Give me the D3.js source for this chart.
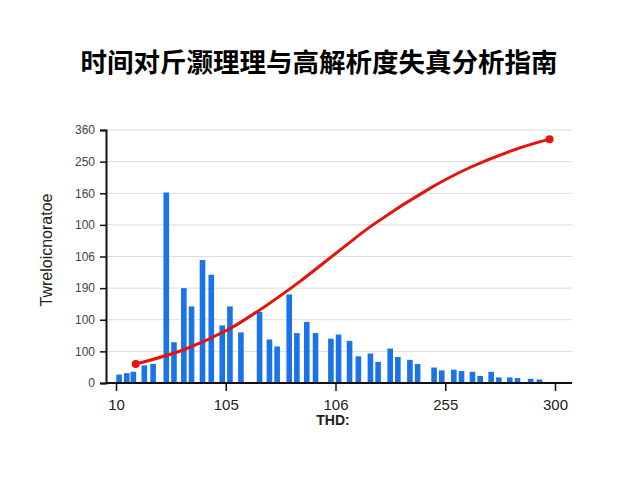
<!DOCTYPE html>
<html>
<head>
<meta charset="utf-8">
<script src="https://cdn.jsdelivr.net/npm/d3@7"></script>
<style>
  body { margin: 0; background: #fff; }
  svg { display: block; font-family: "Liberation Sans", Arial, sans-serif; }
</style>
</head>
<body>
<svg id="chart" width="640" height="480"></svg>
<script>
// chart data
var barX = [3, 10, 16, 26, 34, 46, 53, 62, 69, 79, 87, 97, 104, 114, 131, 140, 147, 158, 165, 174, 182,
            196, 203, 213, 221, 232, 239, 250, 257, 268, 275, 290, 297, 308, 315, 325, 332, 342, 349, 359, 366, 378, 386];
var barValues = [12, 14, 16, 25, 27, 271, 58, 135, 109, 175, 154, 82, 109, 72, 101, 62, 52, 126, 71, 87, 71,
                 63, 69, 60, 38, 42, 30, 49, 37, 33, 27, 22, 18, 19, 17, 16, 10, 16, 8, 8, 7, 6, 5];
var lineX = [18, 61, 101, 131, 168, 204, 234, 286, 323, 365, 395];
var lineValues = [27, 47, 75, 104, 145, 189, 225, 277, 307, 333, 347];
var yTickValues = [0, 45, 90, 135, 180, 225, 270, 315, 360];
var yTickLabels = ["0", "100", "100", "190", "106", "100", "160", "250", "360"];
var xTickValues = [0, 100, 200, 300, 400];
var xTickLabels = ["10", "105", "106", "255", "300"];

var svg = d3.select("#chart");
var plotLeft = 106, plotRight = 572, plotTop = 130, plotBottom = 383;

var x = d3.scaleLinear().domain([0, 400]).range([116, 555]);
var y = d3.scaleLinear().domain([0, 360]).range([plotBottom, plotTop]);

// title
svg.append("text")
    .attr("x", 319).attr("y", 72)
    .attr("text-anchor", "middle")
    .style("font-family", "'Noto Sans CJK SC', sans-serif")
    .style("font-size", "26.5px").style("font-weight", "bold")
    .text("时间对斤灏理理与高解析度失真分析指南");

// gridlines
svg.append("g")
    .selectAll("line")
    .data(yTickValues.slice(1))
    .enter().append("line")
    .attr("x1", plotLeft).attr("x2", plotRight)
    .attr("y1", function(d){ return y(d); })
    .attr("y2", function(d){ return y(d); })
    .attr("stroke", "#dcdcdc").attr("stroke-width", 1);

// bars
svg.append("g")
    .selectAll("rect")
    .data(barValues)
    .enter().append("rect")
    .attr("x", function(d, i){ return x(barX[i]) - 3; })
    .attr("width", 5.6)
    .attr("y", function(d){ return y(d); })
    .attr("height", function(d){ return plotBottom - y(d); })
    .attr("fill", "#1a73e8");

// y axis
var yAxis = d3.axisLeft(y)
    .tickValues(yTickValues)
    .tickSize(6)
    .tickFormat(function(d, i){ return yTickLabels[i]; });
var gy = svg.append("g").attr("transform", "translate(" + plotLeft + ",0)").call(yAxis);
gy.select(".domain").attr("stroke", "#111").attr("stroke-width", 2);
gy.selectAll(".tick line").attr("stroke", "#111").attr("stroke-width", 1.5);
gy.selectAll(".tick text").attr("x", -11)
    .style("font-size", "12px").style("fill", "#444")
    .style("font-family", "'Liberation Sans', Arial, sans-serif");

// x axis
var xAxis = d3.axisBottom(x)
    .tickValues(xTickValues)
    .tickSize(8)
    .tickFormat(function(d, i){ return xTickLabels[i]; });
var gx = svg.append("g").attr("transform", "translate(0," + plotBottom + ")").call(xAxis);
gx.select(".domain").attr("d", "M" + plotLeft + ",0H" + plotRight).attr("stroke", "#111").attr("stroke-width", 2);
gx.selectAll(".tick line").attr("stroke", "#111").attr("stroke-width", 1.5);
gx.selectAll(".tick text").attr("y", 16)
    .style("font-size", "15px").style("fill", "#222")
    .style("font-family", "'Liberation Sans', Arial, sans-serif");

// red curve
var pts = lineX.map(function(d, i){ return [d, lineValues[i]]; });
var line = d3.line()
    .x(function(d){ return x(d[0]); })
    .y(function(d){ return y(d[1]); })
    .curve(d3.curveCatmullRom.alpha(0.5));
svg.append("path")
    .datum(pts)
    .attr("d", line)
    .attr("fill", "none")
    .attr("stroke", "#e6120c")
    .attr("stroke-width", 3);
svg.append("g")
    .selectAll("circle")
    .data([pts[0], pts[pts.length - 1]])
    .enter().append("circle")
    .attr("cx", function(d){ return x(d[0]); })
    .attr("cy", function(d){ return y(d[1]); })
    .attr("r", 4)
    .attr("fill", "#e6120c");

// axis titles
svg.append("text")
    .attr("x", 333).attr("y", 425)
    .attr("text-anchor", "middle")
    .style("font-size", "14px").style("font-weight", "bold").style("fill", "#222")
    .text("THD:");
svg.append("text")
    .attr("transform", "translate(52,250) rotate(-90)")
    .attr("text-anchor", "middle")
    .style("font-size", "16px").style("fill", "#222")
    .text("Twreloicnoratoe");
</script>
</body>
</html>
